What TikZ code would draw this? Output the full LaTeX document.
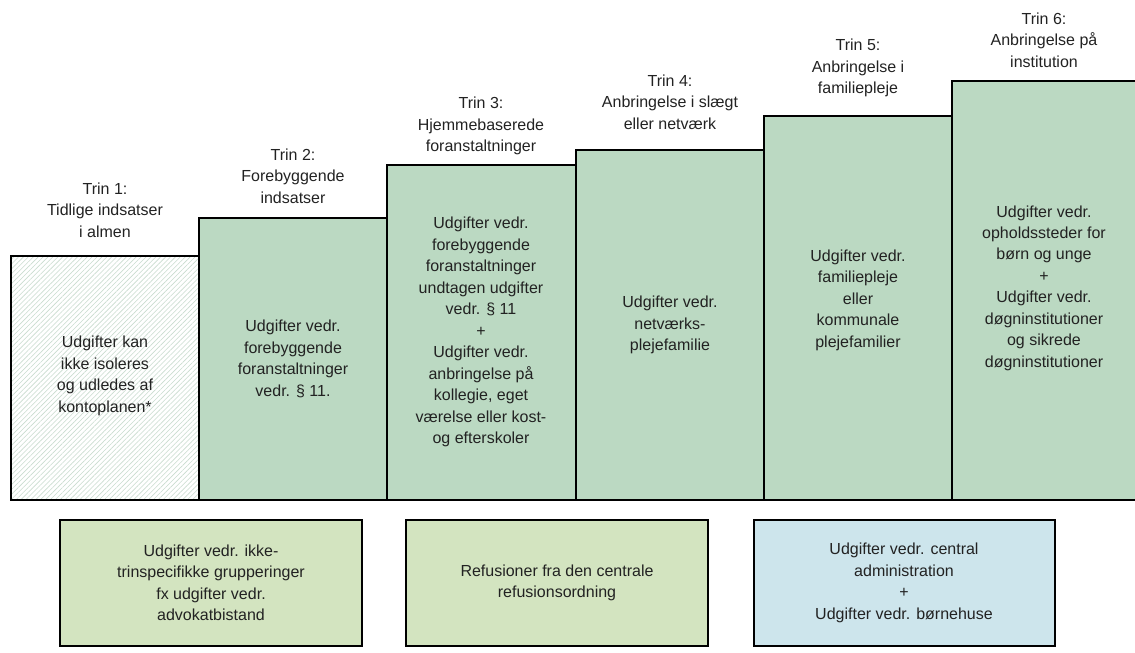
\documentclass[tikz,border=0pt]{standalone}
\usepackage{fontspec}
\setmainfont{Liberation Sans}
\usetikzlibrary{patterns.meta}
\definecolor{stepgreen}{HTML}{BBD9C2}
\definecolor{lightgreen}{HTML}{D3E4C0}
\definecolor{lightblue}{HTML}{CDE5EC}
\definecolor{hatch}{HTML}{C9DCCF}
\definecolor{txt}{HTML}{222222}
\begin{document}
\begin{tikzpicture}[x=0.75pt,y=-0.75pt,
  stepbox/.style={draw=black,line width=1.9pt,fill=stepgreen},
  lowbox/.style={draw=black,line width=1.9pt},
  lbl/.style={align=center,text=txt,font=\fontsize{12pt}{16.1pt}\selectfont,inner sep=0pt},
]
\useasboundingbox (0,0) rectangle (1135,653);
% steps
\path[fill=white] (11,256) rectangle (199,500);
\fill[pattern={Lines[angle=45,distance=2.6pt,line width=0.45pt]},pattern color=hatch] (11,256) rectangle (199,500);
\draw[line width=1.9pt] (11,256) rectangle (199,500);
\draw[stepbox] (199,218) rectangle (387,500);
\draw[stepbox] (387,165) rectangle (576,500);
\draw[stepbox] (576,150) rectangle (764,500);
\draw[stepbox] (764,116) rectangle (952,500);
\draw[stepbox] (952,81) rectangle (1140,500);
% named anchors
\coordinate (c1) at (105,376);
\coordinate (c2) at (293,359);
\coordinate (c3) at (481,332);
\coordinate (c4) at (670,325);
\coordinate (c5) at (858,300);
\coordinate (c6) at (1044,288);
% titles
\node[lbl] (t1) at (105,210) {Trin 1:\\Tidlige indsatser\\i almen};
\node[lbl] (t2) at (293,176) {Trin 2:\\Forebyggende\\indsatser};
\node[lbl] (t3) at (481,126) {Trin 3:\\Hjemmebaserede\\foranstaltninger};
\node[lbl] (t4) at (670,102) {Trin 4:\\Anbringelse i slægt\\eller netværk};
\node[lbl] (t5) at (858,68) {Trin 5:\\Anbringelse i\\familiepleje};
\node[lbl] (t6) at (1044,40) {Trin 6:\\Anbringelse på\\institution};
% box texts
\node[lbl] (b1) at (c1) {Udgifter kan\\ikke isoleres\\og udledes af\\kontoplanen*};
\node[lbl] (b2) at (c2) {Udgifter vedr.\\forebyggende\\foranstaltninger\\vedr. § 11.};
\node[lbl] (b3) at (c3) {Udgifter vedr.\\forebyggende\\foranstaltninger\\undtagen udgifter\\vedr. § 11\\+\\Udgifter vedr.\\anbringelse på\\kollegie, eget\\værelse eller kost-\\og efterskoler};
\node[lbl] (b4) at (c4) {Udgifter vedr.\\netværks-\\plejefamilie};
\node[lbl] (b5) at (c5) {Udgifter vedr.\\familiepleje\\eller\\kommunale\\plejefamilier};
\node[lbl] (b6) at (c6) {Udgifter vedr.\\opholdssteder for\\børn og unge\\+\\Udgifter vedr.\\døgninstitutioner\\og sikrede\\døgninstitutioner};
% bottom boxes
\draw[lowbox,fill=lightgreen] (60,520) rectangle (362,646);
\draw[lowbox,fill=lightgreen] (406,520) rectangle (708,646);
\draw[lowbox,fill=lightblue] (754,520) rectangle (1055,646);
\node[lbl] (l1) at (211,583) {Udgifter vedr. ikke-\\trinspecifikke grupperinger\\fx udgifter vedr.\\advokatbistand};
\node[lbl] (l2) at (557,583) {Refusioner fra den centrale\\refusionsordning};
\node[lbl] (l3) at (904,583) {Udgifter vedr. central\\administration\\+\\Udgifter vedr. børnehuse};
\end{tikzpicture}
\end{document}
